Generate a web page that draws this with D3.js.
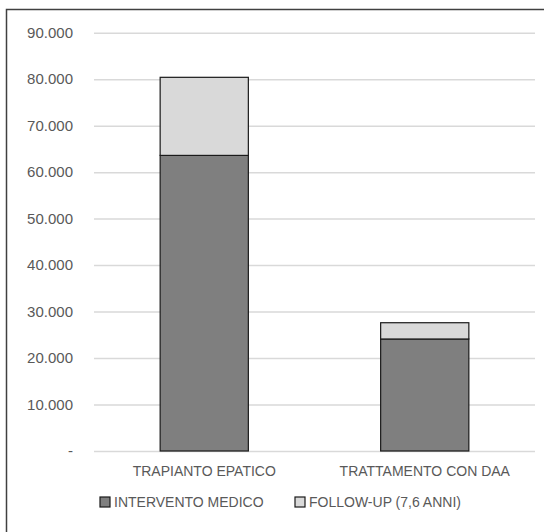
<!DOCTYPE html>
<html><head><meta charset="utf-8">
<script src="https://cdn.jsdelivr.net/npm/d3@7"></script>
<style>body{margin:0;background:#fff;} text{font-family:"Liberation Sans",Arial,sans-serif;fill:#595959;}</style>
</head><body><svg id="c" width="544" height="532"></svg>
<script>
const categories = ["TRAPIANTO EPATICO", "TRATTAMENTO CON DAA"];
const seriesNames = ["INTERVENTO MEDICO", "FOLLOW-UP (7,6 ANNI)"];
const intervento = [63600, 24100];
const followup = [16800, 3500];
const yTicks = [0, 10000, 20000, 30000, 40000, 50000, 60000, 70000, 80000, 90000];
const colors = ["#7f7f7f", "#d9d9d9"];

const svg = d3.select("#c");
svg.append("rect").attr("x",6.5).attr("y",9.5).attr("width",560).attr("height",560)
  .attr("fill","#fff").attr("stroke","#404040").attr("stroke-width",1.5);

const x = d3.scaleBand().domain(categories).range([94,535]).paddingInner(0.6).paddingOuter(0.3);
const y = d3.scaleLinear().domain([0,90000]).range([451,32.7]);

const fmt = v => v === 0 ? "-" : d3.format(",")(v).replace(/,/g,".");
const ga = svg.append("g").attr("transform","translate(94,0)")
  .call(d3.axisLeft(y).tickValues(yTicks).tickSize(-441).tickFormat(fmt).tickPadding(21));
ga.select(".domain").remove();
ga.selectAll(".tick line").attr("stroke","#d9d9d9").attr("stroke-width",1.5);
ga.selectAll(".tick text").attr("font-size",15).attr("fill","#595959")
  .style("font-family","'Liberation Sans',Arial,sans-serif");

const data = categories.map((c,i)=>({cat:c, intervento:intervento[i], followup:followup[i]}));
const stack = d3.stack().keys(["intervento","followup"])(data);
stack.forEach((s,si)=>{
  svg.append("g").selectAll("rect").data(s).join("rect")
    .attr("x", d=>x(d.data.cat)).attr("width", x.bandwidth())
    .attr("y", d=>y(d[1])).attr("height", d=>y(d[0])-y(d[1]))
    .attr("fill", colors[si]).attr("stroke","#1a1a1a").attr("stroke-width",1.2);
});

const gx = svg.append("g").attr("transform","translate(0,451)")
  .call(d3.axisBottom(x).tickSize(0).tickPadding(15));
gx.select(".domain").remove();
gx.selectAll(".tick text").attr("font-size",14).attr("fill","#595959")
  .style("font-family","'Liberation Sans',Arial,sans-serif");

const legX = [100, 295];
seriesNames.forEach((n,i)=>{
  const g = svg.append("g").attr("transform",`translate(${legX[i]},0)`);
  g.append("rect").attr("x",0).attr("y",497).attr("width",10).attr("height",10)
    .attr("fill",colors[i]).attr("stroke","#1a1a1a").attr("stroke-width",1.2);
  g.append("text").attr("x",14).attr("y",507).attr("font-size",14).text(n);
});
</script></body></html>
